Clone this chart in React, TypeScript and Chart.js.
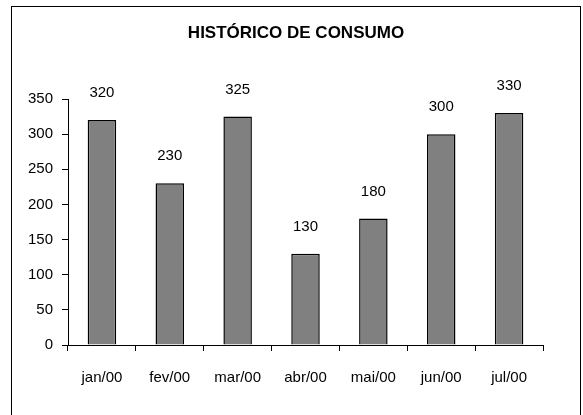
import React, { useEffect, useRef } from "react";
import { Chart, registerables } from "chart.js";

Chart.register(...registerables);

const categories = ["jan/00", "fev/00", "mar/00", "abr/00", "mai/00", "jun/00", "jul/00"];
const consumo = [320, 230, 325, 130, 180, 300, 330];
const yTicks = [0, 50, 100, 150, 200, 250, 300, 350];
const titleText = "HISTÓRICO DE CONSUMO";

const FONT = "'Liberation Sans', Arial, sans-serif";

const frame = {
  id: "frame",
  beforeDraw(chart: any) {
    const ctx = chart.ctx;
    ctx.save();
    ctx.fillStyle = "#fff";
    ctx.fillRect(0, 0, chart.width, chart.height);
    ctx.strokeStyle = "#000";
    ctx.lineWidth = 1;
    ctx.strokeRect(11.5, 6.5, 569, 500);
    ctx.font = `bold 17px ${FONT}`;
    ctx.fillStyle = "#000";
    ctx.textAlign = "center";
    ctx.textBaseline = "middle";
    ctx.fillText(titleText, 296, 33);
    ctx.restore();
  },
};

const valueLabels = {
  id: "valueLabels",
  afterDatasetsDraw(chart: any) {
    const ctx = chart.ctx;
    const meta = chart.getDatasetMeta(0);
    ctx.save();
    ctx.font = `15px ${FONT}`;
    ctx.fillStyle = "#000";
    ctx.textAlign = "center";
    ctx.textBaseline = "middle";
    meta.data.forEach((bar: any, i: number) => {
      ctx.fillText(String(consumo[i]), bar.x, bar.y - 27);
    });
    ctx.restore();
  },
};

export default function App() {
  const ref = useRef<HTMLCanvasElement>(null);
  useEffect(() => {
    if (!ref.current) return;
    const chart = new Chart(ref.current, {
      type: "bar",
      data: {
        labels: categories,
        datasets: [
          {
            data: consumo,
            backgroundColor: "#808080",
            borderColor: "#000",
            borderWidth: 1.5,
            barPercentage: 0.42,
            categoryPercentage: 1,
          },
        ],
      },
      options: {
        animation: false,
        responsive: false,
        devicePixelRatio: 1,
        layout: { padding: { left: 0, right: 40, top: 99, bottom: 0 } },
        plugins: {
          legend: { display: false },
          tooltip: { enabled: false },
          title: { display: false },
        },
        scales: {
          x: {
            afterFit(scale: any) {
              scale.height = 70;
            },
            grid: { drawOnChartArea: false, drawTicks: true, tickLength: 6, color: "#000", offset: true },
            border: { display: true, color: "#000", width: 1 },
            ticks: { color: "#000", font: { family: FONT, size: 15 }, padding: 18, maxRotation: 0, autoSkip: false },
          },
          y: {
            min: 0,
            max: 350,
            afterFit(scale: any) {
              scale.width = 68;
            },
            afterBuildTicks(scale: any) {
              scale.ticks = yTicks.map((v) => ({ value: v }));
            },
            grid: { drawOnChartArea: false, drawTicks: true, tickLength: 6, color: "#000" },
            border: { display: true, color: "#000", width: 1 },
            ticks: { color: "#000", font: { family: FONT, size: 15 }, padding: 9 },
          },
        },
      },
      plugins: [frame, valueLabels],
    });
    return () => chart.destroy();
  }, []);
  return (
    <div style={{ position: "absolute", left: 0, top: 0, width: 583, height: 415 }}>
      <canvas ref={ref} width={583} height={415} style={{ width: 583, height: 415 }} />
    </div>
  );
}
